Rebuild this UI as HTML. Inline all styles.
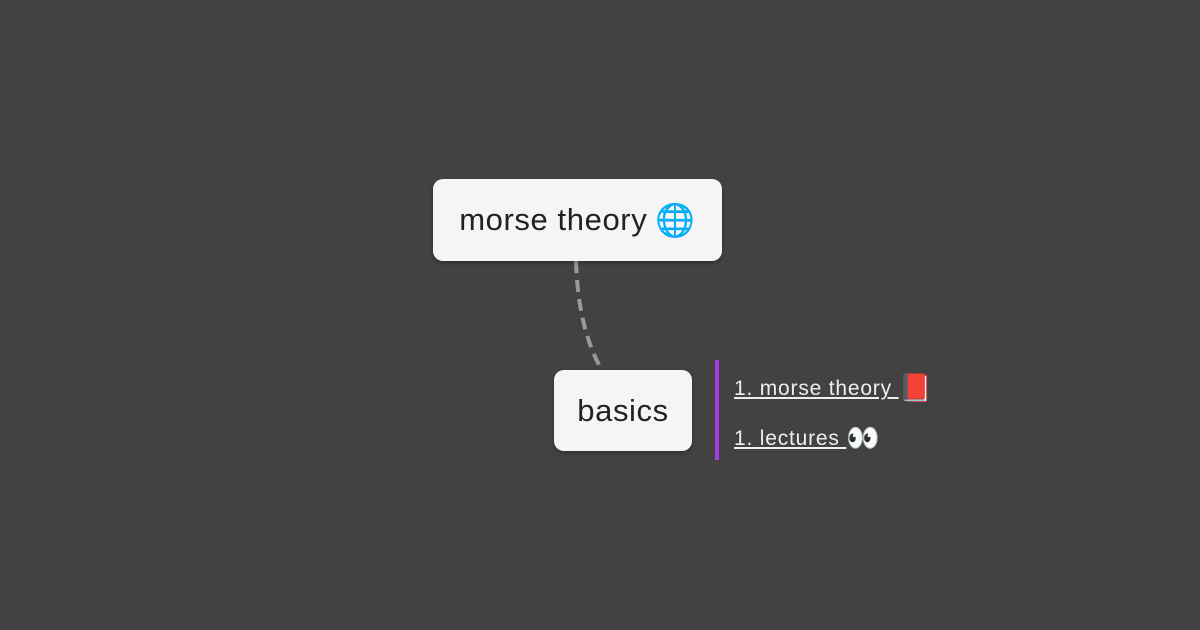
<!DOCTYPE html>
<html><head><meta charset="utf-8"><style>
body{margin:0;width:1200px;height:630px;background:#424242;position:relative;overflow:hidden;font-family:"Liberation Sans",sans-serif}
.n{position:absolute;background:#f5f5f5;border-radius:10px;color:#222;box-shadow:0 2px 4px rgba(0,0,0,.3);display:flex;align-items:center;justify-content:center;font-size:31px;letter-spacing:0.6px}
.l{position:absolute;color:#eee;font-size:21px;letter-spacing:0.8px;text-decoration:underline;white-space:nowrap}
.e{text-decoration:none;font-size:27px;display:inline-block;vertical-align:-2px}
</style></head><body>
<svg width="1200" height="630" style="position:absolute;left:0;top:0">
<path d="M576 261 Q578 330 603 372" stroke="#9a9a9a" stroke-width="4" fill="none" stroke-dasharray="12 7"/>
<rect x="715" y="360" width="4" height="100" fill="#a33ee6"/>
</svg>
<div class="n" style="left:433px;top:179px;width:289px;height:82px">morse theory <span style="font-size:32px;margin-left:8px">🌐</span></div>
<div class="n" style="left:554px;top:370px;width:138px;height:81px">basics</div>
<div class="l" style="left:734px;top:372px">1. morse theory <span class="e">📕</span></div>
<div class="l" style="left:734px;top:422px">1. lectures <span class="e">👀</span></div>
</body></html>
